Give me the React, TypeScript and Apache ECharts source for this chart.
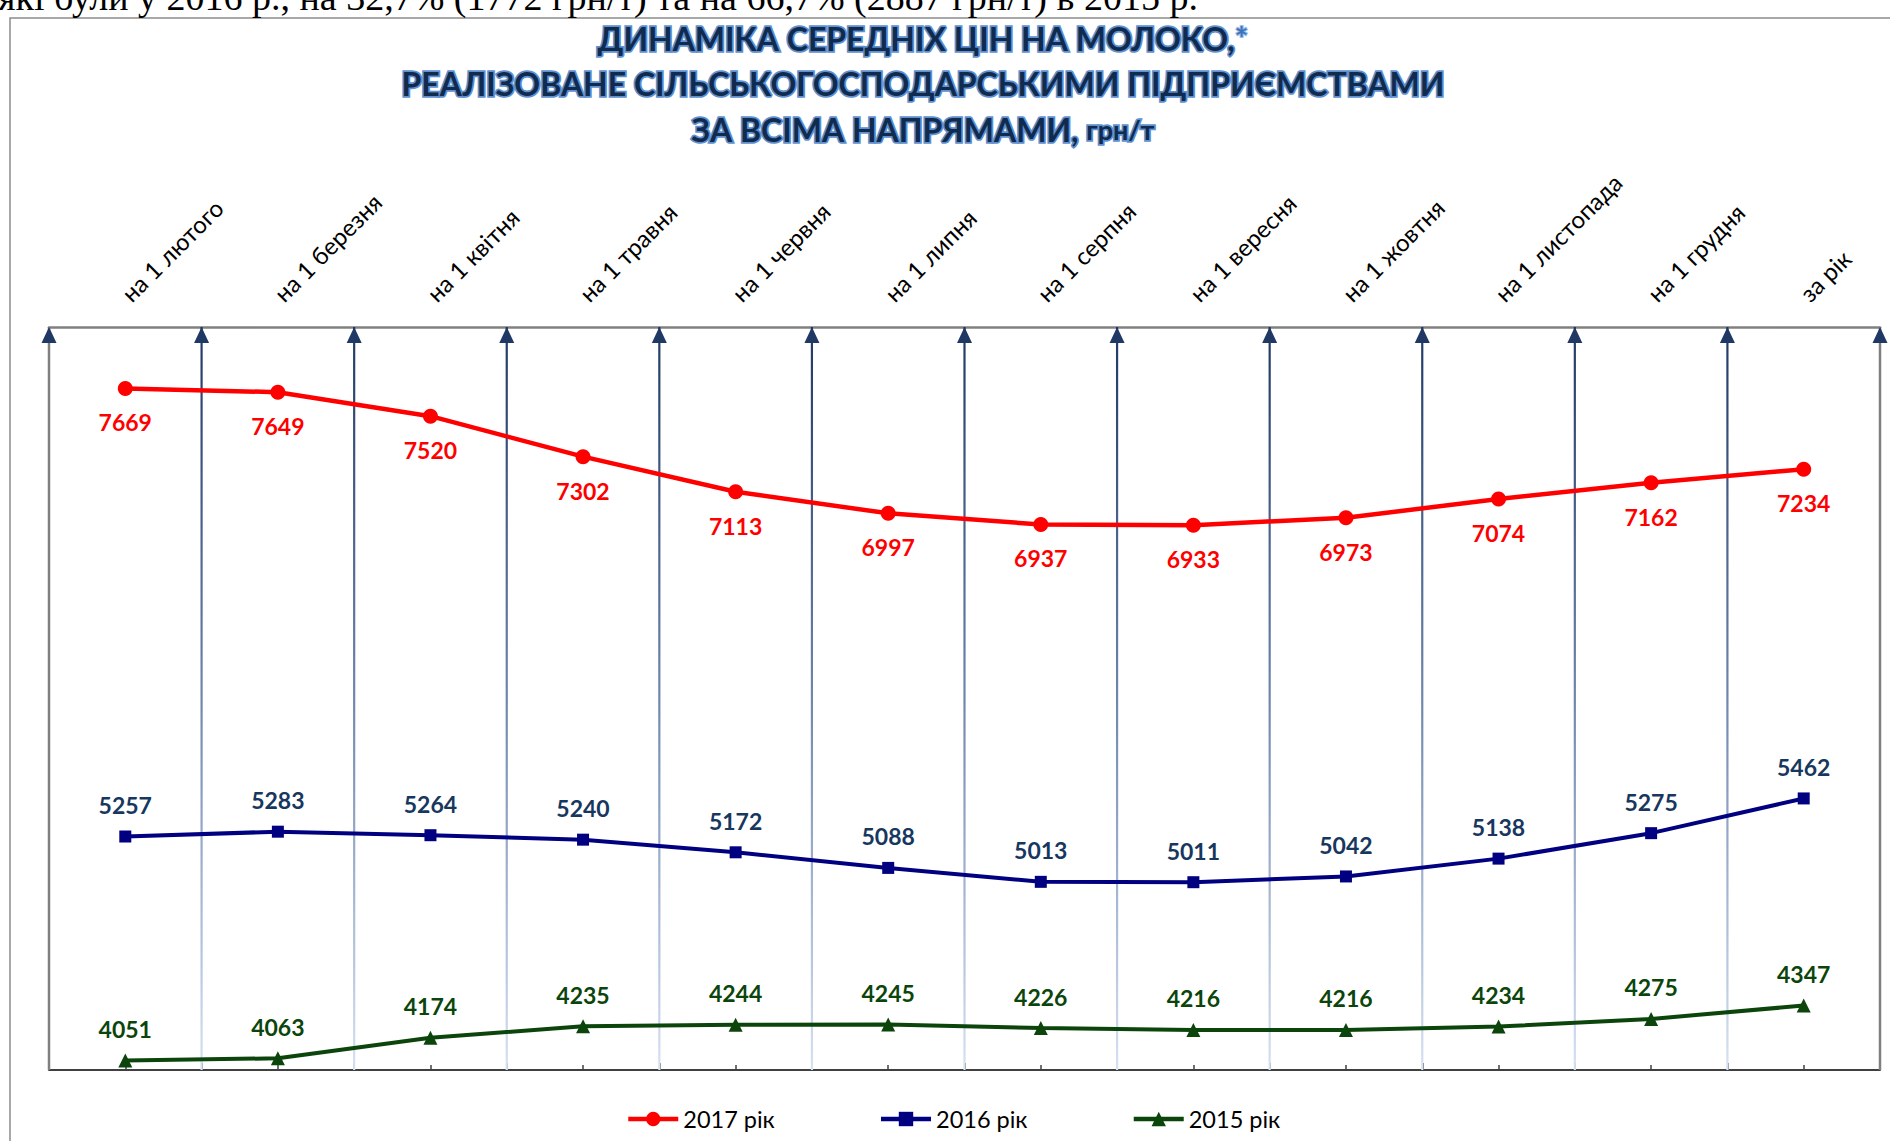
import React, { useEffect, useRef } from 'react';
import * as echarts from 'echarts';

const categories = [
  'на 1 лютого', 'на 1 березня', 'на 1 квітня', 'на 1 травня', 'на 1 червня', 'на 1 липня',
  'на 1 серпня', 'на 1 вересня', 'на 1 жовтня', 'на 1 листопада', 'на 1 грудня', 'за рік',
];
const seriesNames = ['2017 рік', '2016 рік', '2015 рік'];
const values2017 = [7669, 7649, 7520, 7302, 7113, 6997, 6937, 6933, 6973, 7074, 7162, 7234];
const values2016 = [5257, 5283, 5264, 5240, 5172, 5088, 5013, 5011, 5042, 5138, 5275, 5462];
const values2015 = [4051, 4063, 4174, 4235, 4244, 4245, 4226, 4216, 4216, 4234, 4275, 4347];
const yMin = 4000;
const yMax = 8000;

const topText = 'які були у 2016 р., на 32,7% (1772 грн/т) та на 66,7% (2887 грн/т) в 2015 р.';
const titleLine1 = 'ДИНАМІКА СЕРЕДНІХ ЦІН НА МОЛОКО,';
const titleStar = '*';
const titleLine2 = 'РЕАЛІЗОВАНЕ СІЛЬСЬКОГОСПОДАРСЬКИМИ ПІДПРИЄМСТВАМИ';
const titleLine3 = 'ЗА ВСІМА НАПРЯМАМИ, ';
const titleUnit = 'грн/т';

const boundaries = Array.from({ length: categories.length + 1 }, (_, i) => i);

const FONT = 'Lato, "Open Sans", sans-serif';

export default function App() {
  const ref = useRef<HTMLDivElement>(null);

  useEffect(() => {
    document.body.style.margin = '0';
    if (!ref.current) return;
    const chart = echarts.init(ref.current, null, { renderer: 'svg' });

    const titleBase = {
      fill: '#112B4E',
      stroke: '#5F90CF',
      lineWidth: 3.5,
      fontFamily: FONT,
      fontWeight: 'bold',
      fontSize: 32,
    };

    const option: any = {
      animation: false,
      backgroundColor: '#ffffff',
      grid: { left: 49, right: 10, top: 327, bottom: 71, containLabel: false },
      legend: {
        data: seriesNames,
        left: 621,
        top: 1102,
        itemWidth: 50,
        itemHeight: 18,
        itemGap: 104,
        lineStyle: { width: 4.5 },
        textStyle: { fontFamily: FONT, fontSize: 23.5, color: '#000' },
      },
      xAxis: [
        {
          type: 'category',
          data: categories,
          position: 'top',
          boundaryGap: true,
          axisLine: { show: true, lineStyle: { color: '#808080', width: 2.5 } },
          axisTick: { show: false },
          axisLabel: {
            interval: 0,
            rotate: -45,
            margin: 30,
            fontFamily: FONT,
            fontSize: 24,
            color: '#000',
          },
          splitLine: { show: false },
        },
        {
          type: 'category',
          data: categories,
          position: 'bottom',
          boundaryGap: true,
          axisLine: { show: true, lineStyle: { color: '#404040', width: 2 } },
          axisTick: { show: true, inside: true, length: 7, lineStyle: { color: '#404040', width: 1.5 } },
          axisLabel: { show: false },
          splitLine: { show: false },
        },
        {
          type: 'category',
          data: categories,
          position: 'bottom',
          boundaryGap: true,
          axisLine: { show: false },
          axisTick: { show: true, inside: true, alignWithLabel: true, length: 5, lineStyle: { color: '#404040', width: 1.5 } },
          axisLabel: { show: false },
          splitLine: { show: false },
        },
        {
          type: 'value',
          min: 0,
          max: categories.length,
          show: false,
        },
      ],
      yAxis: {
        type: 'value',
        min: yMin,
        max: yMax,
        show: false,
        splitLine: { show: false },
      },
      graphic: [
        {
          type: 'rect',
          shape: { x: 10, y: 18, width: 1900, height: 1200 },
          style: { fill: 'none', stroke: '#8C8C8C', lineWidth: 1.5 },
          z: 0,
        },
        {
          type: 'text',
          x: -2,
          y: -3,
          style: {
            text: topText,
            fill: '#000',
            fontFamily: '"Liberation Serif", serif',
            fontSize: 38,
            textAlign: 'left',
            textVerticalAlign: 'middle',
          },
        },
        {
          type: 'text',
          x: 923,
          y: 38,
          style: {
            text: `{a|${titleLine1}}{s|${titleStar}}`,
            textAlign: 'center',
            textVerticalAlign: 'middle',
            rich: {
              a: { ...titleBase },
              s: { ...titleBase, fill: '#3F72B8', stroke: '#9CC0EA', lineWidth: 2 },
            },
          },
        },
        {
          type: 'text',
          x: 923,
          y: 83,
          style: {
            text: titleLine2,
            textAlign: 'center',
            textVerticalAlign: 'middle',
            ...titleBase,
          },
        },
        {
          type: 'text',
          x: 923,
          y: 129,
          style: {
            text: `{a|${titleLine3}}{u|${titleUnit}}`,
            textAlign: 'center',
            textVerticalAlign: 'middle',
            rich: {
              a: { ...titleBase },
              u: { ...titleBase, fontSize: 27 },
            },
          },
        },
      ],
      series: [
        {
          type: 'custom',
          name: 'grid-lines',
          xAxisIndex: 3,
          yAxisIndex: 0,
          z: 2,
          silent: true,
          data: boundaries.map((b) => [b, yMax]),
          renderItem: (params: any, api: any) => {
            const b = api.value(0);
            const top = api.coord([b, yMax]);
            const bot = api.coord([b, yMin]);
            const x = top[0];
            const yTop = top[1];
            const yBot = bot[1];
            const isEdge = b === 0 || b === categories.length;
            const stroke = isEdge
              ? '#808080'
              : new echarts.graphic.LinearGradient(0, yTop, 0, yBot, [
                  { offset: 0, color: '#1F3864' },
                  { offset: 0.5, color: '#6F86AD' },
                  { offset: 1, color: '#D6E1F2' },
                ], true);
            return {
              type: 'group',
              children: [
                {
                  type: 'line',
                  shape: { x1: x, y1: yTop, x2: x, y2: yBot },
                  style: { stroke, lineWidth: isEdge ? 2.5 : 2.2 },
                },
                {
                  type: 'polygon',
                  shape: { points: [[x, yTop], [x - 7.5, yTop + 16], [x + 7.5, yTop + 16]] },
                  style: { fill: '#1F3864' },
                },
              ],
            };
          },
        },
        {
          type: 'line',
          name: seriesNames[0],
          data: values2017,
          xAxisIndex: 0,
          z: 4,
          symbol: 'circle',
          symbolSize: 15,
          lineStyle: { color: '#FF0000', width: 4.5 },
          itemStyle: { color: '#FF0000' },
          label: {
            show: true,
            position: 'bottom',
            distance: 15,
            color: '#FF0000',
            fontFamily: FONT,
            fontWeight: 'bold',
            fontSize: 23,
          },
        },
        {
          type: 'line',
          name: seriesNames[1],
          data: values2016,
          xAxisIndex: 0,
          z: 4,
          symbol: 'rect',
          symbolSize: 12,
          lineStyle: { color: '#000080', width: 4 },
          itemStyle: { color: '#000080' },
          label: {
            show: true,
            position: 'top',
            distance: 14,
            color: '#17375E',
            fontFamily: FONT,
            fontWeight: 'bold',
            fontSize: 23,
          },
        },
        {
          type: 'line',
          name: seriesNames[2],
          data: values2015,
          xAxisIndex: 0,
          z: 4,
          symbol: 'triangle',
          symbolSize: 14,
          lineStyle: { color: '#0B450B', width: 4 },
          itemStyle: { color: '#0B450B' },
          label: {
            show: true,
            position: 'top',
            distance: 13,
            color: '#0B450B',
            fontFamily: FONT,
            fontWeight: 'bold',
            fontSize: 23,
          },
        },
      ],
    };

    chart.setOption(option);
    return () => chart.dispose();
  }, []);

  return <div ref={ref} style={{ width: 1890, height: 1141 }} />;
}
